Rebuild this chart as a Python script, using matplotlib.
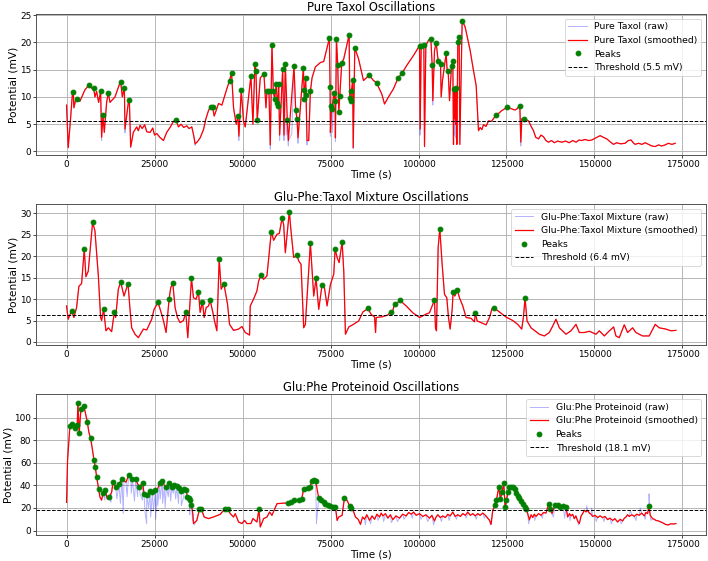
import numpy as np
import matplotlib.pyplot as plt

# ---- Pure Taxol: (time s, potential mV) ----
taxol_smooth = [
    (0, 8.5), (475, 0.7), (1139, 6.0), (1708, 11.0), (1898, 10.9), (2088, 8.0), (2657, 9.7), (2942, 9.6),
    (3796, 9.2), (5220, 11.3), (5884, 11.8), (6453, 12.1), (7118, 11.6), (7687, 11.7), (8067, 10.0),
    (8541, 11.0), (9110, 9.0), (9680, 11.0), (9965, 2.6), (10344, 6.6), (10724, 3.5), (11388, 9.0),
    (11863, 10.8), (12337, 9.0), (13761, 10.0), (15184, 12.6), (15374, 12.8), (15848, 10.0), (16418, 11.7),
    (16608, 4.1), (17557, 9.0), (17841, 9.4), (18221, 0.8), (18980, 3.5), (19929, 4.5), (20400, 3.8),
    (20878, 4.8), (21500, 4.2), (22200, 4.9), (22800, 3.6), (23725, 3.5), (24500, 4.3), (25000, 3.0),
    (25623, 3.3), (26500, 2.6), (27521, 2.0), (28470, 3.5), (29500, 4.5), (30368, 5.5), (31127, 5.8),
    (31792, 4.5), (32500, 5.0), (33300, 4.4), (34164, 4.7), (34800, 4.2), (35588, 4.5), (36100, 3.0),
    (36537, 1.4), (37200, 1.8), (37960, 2.5), (38909, 4.0), (39600, 6.0), (40333, 7.5), (40902, 8.2),
    (41471, 8.2), (41946, 6.5), (42500, 7.5), (43180, 8.8), (44129, 8.5), (45552, 11.5), (46311, 13.0),
    (46881, 14.4), (47450, 8.0), (48209, 5.0), (48684, 6.5), (48968, 2.8), (49633, 11.2), (50297, 5.5),
    (50772, 4.5), (51721, 10.0), (52385, 13.9), (52954, 5.0), (53524, 16.1), (53808, 14.8), (54188, 5.8),
    (55042, 13.5), (56086, 14.2), (56655, 8.0), (56940, 11.0), (57509, 11.0), (57889, 1.2), (58364, 19.6),
    (58743, 11.0), (59123, 9.6), (59597, 12.4), (59882, 8.8), (60072, 8.3), (60262, 12.3), (60546, 3.0),
    (61400, 15.1), (61780, 3.0), (62160, 16.1), (62729, 5.7), (63014, 2.0), (64627, 15.6), (65102, 7.6),
    (65481, 6.0), (65766, 2.5), (67284, 15.3), (67474, 11.3), (67569, 9.6), (67948, 13.4), (68043, 10.4),
    (68328, 2.0), (68803, 2.0), (69277, 11.0), (69752, 13.5), (70701, 15.5), (72124, 16.3), (73073, 16.5),
    (74686, 20.8), (74876, 11.8), (74971, 3.5), (75256, 8.3), (75446, 7.8), (75920, 10.8), (76300, 9.2),
    (76395, 2.5), (76679, 20.7), (77059, 15.8), (77344, 7.2), (77628, 10.2), (78198, 16.2), (78767, 17.0),
    (80285, 21.4), (80475, 9.8), (80760, 9.3), (80950, 11.1), (81300, 13.1), (81450, 0.7), (81900, 19.0),
    (82954, 17.0), (84374, 13.0), (85984, 14.0), (87216, 13.0), (88068, 12.6), (89583, 10.5), (90341, 8.7),
    (91477, 10.0), (92898, 11.5), (94129, 13.4), (95265, 14.3), (96686, 15.8), (98580, 17.6), (100000, 19.1),
    (100284, 19.4), (100474, 4.1), (100758, 19.4), (101136, 19.6), (101515, 19.6), (101705, 0.9),
    (102083, 19.4), (102841, 20.4), (103504, 20.7), (103883, 15.8), (104072, 9.3), (104546, 18.5),
    (105019, 19.9), (105587, 16.6), (105966, 16.1), (106250, 16.1), (106440, 10.0), (106818, 13.0),
    (107860, 18.0), (108144, 14.7), (108428, 14.7), (108807, 9.3), (109375, 15.6), (109754, 16.6),
    (109944, 1.3), (110038, 11.5), (110228, 6.0), (110417, 11.5), (110550, 5.0), (110701, 11.6),
    (110891, 1.3), (111175, 20.0), (111553, 20.9), (111743, 1.3), (112406, 24.0), (113258, 22.8),
    (114679, 18.5), (115626, 14.8), (116383, 12.1), (117046, 3.8), (117520, 4.4), (118000, 4.0),
    (118467, 4.9), (119200, 4.6), (119887, 5.6), (120700, 5.5), (121970, 6.6), (122800, 7.0), (123675, 7.5),
    (125190, 8.1), (126516, 7.8), (127400, 7.6), (127937, 7.8), (128789, 8.4), (129073, 1.7), (129357, 6.0),
    (130115, 6.0), (131251, 5.6), (132000, 4.6), (132672, 3.8), (133300, 2.6), (134092, 2.3), (134800, 3.0),
    (135513, 2.7), (136200, 2.0), (136933, 1.7), (137800, 2.0), (138600, 1.6), (139500, 1.9), (140721, 1.7),
    (141800, 1.9), (142800, 1.6), (143800, 2.0), (144800, 1.7), (145600, 2.1), (146403, 2.0), (147300, 2.2),
    (148300, 2.0), (149244, 2.1), (150400, 2.5), (151612, 2.9), (152500, 2.6), (153506, 2.3), (154400, 1.8),
    (155400, 1.3), (156300, 1.6), (157400, 1.4), (158714, 1.5), (159600, 2.0), (160419, 2.1), (161000, 1.6),
    (161555, 1.3), (162500, 1.5), (163500, 1.3), (164400, 1.6), (165343, 1.3), (166300, 1.0), (167237, 0.9),
    (168200, 1.2), (169100, 1.0), (170078, 1.2), (171000, 1.5), (172000, 1.3), (172919, 1.5),
]
taxol_raw_extra = [
    (9965, 2.0), (16608, 3.4), (36537, 1.1), (48968, 2.0), (57889, 0.4), (60546, 2.0), (61780, 2.0),
    (62400, 3.0), (63014, 1.0), (64000, 3.2), (65766, 1.5), (68328, 1.2), (74971, 2.8), (75600, 3.5),
    (76395, 1.8), (81450, 0.5), (100474, 3.0), (104072, 8.5), (110228, 3.0), (110550, 2.5), (129073, 1.0),
]
taxol_peaks = [
    (1898, 10.9), (2942, 9.6), (6453, 12.1), (7687, 11.7), (9680, 11.0), (10344, 6.6), (11863, 10.8),
    (15374, 12.8), (16418, 11.7), (17841, 9.4), (31127, 5.8), (40902, 8.2), (41471, 8.2), (46311, 13.0),
    (46881, 14.4), (48684, 6.5), (49633, 11.2), (52385, 13.9), (53524, 16.1), (53808, 14.8), (54188, 5.8),
    (56086, 14.2), (56940, 11.0), (57509, 11.0), (58364, 19.6), (58743, 11.0), (59123, 9.6), (59597, 12.4),
    (59882, 8.8), (60072, 8.3), (60262, 12.3), (61400, 15.1), (62160, 16.1), (62729, 5.7), (64627, 15.6),
    (65102, 7.6), (65481, 6.0), (67284, 15.3), (67474, 11.3), (67569, 9.6), (67948, 13.4), (68043, 10.4),
    (69277, 11.0), (74686, 20.8), (74876, 11.8), (75256, 8.3), (75446, 7.8), (75920, 10.8), (76300, 9.2),
    (76679, 20.7), (77059, 15.8), (77344, 7.2), (77628, 10.2), (78198, 16.2), (80285, 21.4), (80475, 9.8),
    (80760, 9.3), (80950, 11.1), (81300, 13.1), (81900, 19.0), (85984, 14.0), (88068, 12.6), (94129, 13.4),
    (95265, 14.3), (100284, 19.4), (100758, 19.4), (101515, 19.6), (103504, 20.7), (103883, 15.8),
    (105019, 19.9), (105587, 16.6), (106250, 16.1), (107860, 18.0), (108428, 14.7), (109375, 15.6),
    (109754, 16.6), (110038, 11.5), (110417, 11.5), (110701, 11.6), (111175, 20.0), (111553, 20.9),
    (112406, 24.0), (121970, 6.6), (125190, 8.1), (128789, 8.4), (130115, 6.0),
]
taxol_threshold = 5.5

# ---- Glu-Phe:Taxol mixture ----
mix_smooth = [
    (0, 8.4), (475, 5.3), (1424, 7.3), (2088, 5.7), (2847, 8.0), (3511, 13.0), (4271, 13.6), (5030, 21.6),
    (5504, 15.2), (6169, 16.5), (6833, 22.5), (7402, 27.9), (8067, 25.9), (9016, 15.6), (9680, 5.7),
    (9965, 5.0), (10534, 7.6), (11198, 2.6), (11863, 3.3), (12812, 2.4), (13571, 6.9), (13950, 5.7),
    (14710, 12.3), (15374, 14.0), (16323, 10.7), (17462, 13.6), (18031, 7.6), (18506, 3.3), (19455, 1.8),
    (20404, 1.0), (21827, 3.0), (22776, 2.8), (24200, 5.3), (24864, 7.6), (26003, 9.2), (27047, 6.4),
    (27521, 5.0), (28280, 2.2), (29134, 10.0), (29609, 12.7), (30178, 13.8), (30843, 8.0), (31507, 5.7),
    (32266, 4.5), (33215, 5.0), (33879, 6.9), (34449, 1.0), (35493, 14.8), (36062, 10.3), (36821, 10.0),
    (37486, 11.7), (37960, 6.9), (38624, 9.3), (39099, 5.7), (39668, 8.0), (40333, 8.4), (40807, 9.7),
    (41566, 6.9), (42041, 4.9), (42705, 2.6), (43369, 19.3), (43939, 12.3), (44698, 13.6), (45078, 11.9),
    (45742, 8.8), (46311, 4.1), (47450, 2.7), (48874, 3.0), (49823, 3.6), (50772, 2.2), (52005, 1.6),
    (52195, 8.4), (53144, 10.0), (54093, 11.9), (54568, 14.2), (55232, 15.5), (55991, 14.6), (56940, 15.4),
    (58174, 25.7), (58838, 23.7), (59787, 25.1), (60451, 25.3), (61211, 28.8), (61685, 27.4), (62160, 20.8),
    (62634, 24.8), (63298, 30.4), (63773, 25.9), (64532, 19.7), (65481, 20.2), (65956, 18.9), (66620, 18.1),
    (67379, 3.3), (67854, 4.1), (68328, 10.3), (69277, 23.0), (70226, 10.7), (70890, 14.8), (71650, 7.6),
    (72599, 13.3), (73263, 12.7), (74022, 8.4), (74971, 13.4), (75920, 15.8), (76300, 21.6), (76869, 19.7),
    (77438, 18.5), (78293, 23.3), (78767, 16.5), (79242, 1.8), (80200, 3.5), (81500, 4.1), (83000, 4.9),
    (84202, 7.0), (85621, 7.8), (86567, 6.4), (87513, 5.8), (87797, 2.2), (87986, 5.7), (89878, 5.9),
    (91297, 6.3), (92054, 7.0), (92432, 6.4), (93189, 8.9), (93662, 8.8), (94702, 9.7), (96500, 8.4),
    (98392, 6.8), (100284, 5.7), (102176, 6.5), (103122, 6.8), (104068, 8.8), (104541, 9.7), (104825, 3.3),
    (105108, 2.6), (105581, 22.0), (106054, 26.4), (106717, 18.1), (107379, 11.1), (108041, 10.3),
    (108514, 5.7), (108987, 3.0), (109555, 7.5), (109838, 11.7), (110311, 10.7), (111068, 12.0),
    (111636, 10.3), (112582, 8.4), (113528, 5.7), (114947, 5.5), (115893, 4.7), (116177, 6.8), (116650, 4.9),
    (117785, 4.5), (119204, 4.0), (120150, 5.7), (120907, 7.8), (121380, 7.8), (122515, 7.3), (123934, 6.4),
    (124880, 5.8), (126772, 5.0), (128191, 4.1), (129326, 3.0), (129799, 5.7), (130272, 10.2), (130840, 4.9),
    (131975, 3.3), (134340, 1.8), (135759, 1.4), (137178, 2.2), (138124, 3.7), (139070, 5.3), (140016, 3.3),
    (141908, 1.8), (143327, 2.6), (144746, 4.1), (145692, 2.2), (147111, 2.2), (148530, 2.5), (150422, 1.8),
    (151368, 2.6), (152787, 1.4), (153733, 2.2), (155436, 3.5), (156098, 1.4), (157044, 1.0), (158463, 4.0),
    (159409, 2.2), (160828, 3.3), (161774, 2.2), (163666, 1.4), (165558, 1.4), (167261, 4.1), (168396, 3.3),
    (170288, 3.0), (171707, 2.6), (173126, 2.7),
]
mix_raw_extra = []
mix_peaks = [
    (1424, 7.3), (5030, 21.6), (7402, 27.9), (10534, 7.6), (13571, 6.9), (15374, 14.0), (17462, 13.6),
    (26003, 9.2), (29134, 10.0), (30178, 13.8), (33879, 6.9), (35493, 14.8), (37486, 11.7), (38624, 9.3),
    (40807, 9.7), (43369, 19.3), (44698, 13.6), (55232, 15.5), (58174, 25.7), (61211, 28.8), (63298, 30.4),
    (65481, 20.2), (69277, 23.0), (70890, 14.8), (72599, 13.3), (76300, 21.6), (78293, 23.3), (85621, 7.8),
    (92054, 7.0), (93189, 8.9), (94702, 9.7), (104541, 9.7), (106054, 26.4), (109838, 11.7), (111068, 12.0),
    (116177, 6.8), (121380, 7.8), (130272, 10.2),
]
mix_threshold = 6.4

# ---- Glu:Phe proteinoid ----
prot_smooth = [
    (0, 25), (285, 62), (664, 79.5), (949, 92.7), (1424, 94.7), (2088, 92.7), (2467, 91.0), (3037, 93.5),
    (3227, 113), (3606, 86.8), (4081, 107.3), (4840, 110.6), (5220, 106), (5884, 96.5), (6358, 86.8),
    (6833, 81.8), (7402, 70.7), (7782, 62.5), (8161, 56), (8541, 47.8), (9110, 37), (9490, 29.6), (9965, 27),
    (10344, 33.1), (11008, 35.8), (11578, 28), (12052, 29.6), (12812, 34), (13191, 42.8), (13950, 39),
    (14899, 41.3), (15753, 45.7), (16323, 44.3), (16892, 42.8), (17651, 49.3), (18221, 47), (18695, 45.7),
    (19644, 45.5), (20214, 41.3), (20688, 39), (21637, 42), (22017, 32.6), (22776, 31.7), (23725, 35),
    (24389, 34), (25243, 35.8), (25813, 36.4), (26477, 42), (27236, 44.3), (27806, 39.9), (28375, 39),
    (29229, 42), (29894, 39), (30653, 40), (31317, 39.1), (31982, 37.8), (32551, 35), (33405, 37),
    (33974, 35.5), (34354, 30), (34828, 28.7), (35113, 26.7), (35493, 23), (35872, 15), (36062, 6.2),
    (37011, 9), (37770, 19), (38340, 18.8), (39099, 12), (40333, 10.6), (41756, 12), (43654, 14.4),
    (44888, 18.8), (45837, 19.4), (46501, 15), (47450, 12), (47924, 15), (48874, 7.6), (49823, 6.2),
    (50582, 9), (51246, 6.2), (52385, 6.2), (52954, 10.6), (54093, 7.6), (54662, 18.8), (55042, 3.2),
    (55991, 10.6), (56940, 12), (57699, 16.4), (58364, 13.5), (59787, 23.8), (61685, 24.3), (62824, 24.3),
    (63773, 25), (64722, 26.7), (65956, 26.7), (66810, 28), (67379, 37), (68518, 37.5), (69087, 38.4),
    (69752, 43.7), (70321, 44.9), (70796, 43.7), (71650, 28.7), (72409, 26.7), (73073, 25), (73548, 23.8),
    (74307, 22.9), (74971, 21.4), (75730, 20.8), (76395, 20.8), (76869, 9), (77344, 12), (78293, 13.5),
    (78957, 29), (79716, 26.7), (80475, 21.4), (80950, 20.2), (81424, 17.9), (82088, 12), (82847, 10),
    (83511, 5.5), (84100, 12), (84675, 10), (85300, 14), (86094, 9), (86800, 13), (87513, 10), (88200, 14.5),
    (88932, 12), (89400, 15.5), (89878, 13), (90600, 15), (91297, 11), (92000, 14), (92716, 9.7), (93600, 13),
    (94608, 11), (95500, 14.5), (96500, 13), (97200, 16), (97919, 14.5), (98600, 16.4), (99338, 13.5),
    (100300, 15), (101230, 12.5), (102100, 14), (103122, 11), (103800, 13.5), (104541, 8.5), (105000, 12),
    (105487, 14), (106200, 11.5), (106906, 13), (107600, 11.5), (108325, 14.4), (109000, 13), (109744, 16.4),
    (110400, 12.5), (111163, 14), (111900, 12.5), (112582, 15), (113300, 13.5), (114001, 16.4), (114700, 13.5),
    (115420, 15), (116100, 13), (116839, 15), (117500, 13.5), (118258, 15.5), (119000, 13.5), (119677, 11),
    (120200, 9), (120623, 5.5), (121096, 17.9), (121664, 22.3), (122136, 26.7), (122799, 38.4), (123272, 28),
    (123745, 34), (124218, 42.2), (124596, 20.8), (124974, 26.7), (125447, 34), (125826, 38.4), (126393, 39),
    (126772, 39), (127434, 37), (127718, 33), (128191, 31), (128664, 28.7), (129231, 25.8), (129704, 23.2),
    (130177, 20.8), (130556, 19.4), (131029, 15), (131502, 9.5), (132000, 14), (132448, 11.5), (132900, 14.5),
    (133394, 12.5), (134100, 15), (134813, 13.5), (135500, 16), (136232, 15.5), (136989, 23.8), (137462, 19.4),
    (137935, 15), (138786, 22.9), (139638, 22.3), (140300, 20.8), (141151, 21.7), (141908, 20.8), (142381, 12),
    (142900, 15), (143327, 13), (143800, 14.4), (144273, 10.5), (144700, 13), (145219, 8.5), (145692, 6.2),
    (146200, 13), (146638, 15), (147100, 18), (147584, 16.5), (148000, 18), (148530, 15.5), (149000, 14.5),
    (149476, 12.5), (150200, 13.5), (150895, 11.5), (151600, 13), (152314, 11.5), (153000, 12.5),
    (153733, 9.7), (154400, 11), (155152, 9), (155800, 10.5), (156571, 7.6), (157300, 10), (157990, 8.5),
    (158500, 11), (158936, 12), (159400, 14), (159882, 12.5), (160600, 14), (161301, 12.6), (162000, 14.5),
    (162720, 13.5), (163400, 15.5), (164139, 13), (164600, 16), (165085, 15), (165463, 21.7), (165842, 13.5),
    (166504, 10.6), (167000, 10), (167450, 9), (168200, 8.5), (168869, 7.6), (169600, 6.5), (170288, 5.3),
    (171000, 5.0), (171707, 6.0), (172400, 5.8), (173126, 6.2),
]
prot_raw_extra = [
    (2800, 88), (3400, 84), (10900, 27), (12600, 25), (14300, 28), (15300, 24), (16100, 15), (17200, 30),
    (18400, 33), (19300, 26), (20200, 30), (20900, 32), (21600, 27), (22300, 16), (22760, 6), (23300, 20),
    (23900, 12), (24700, 18), (25300, 10), (25900, 22), (26600, 28), (27300, 24), (28000, 20), (28900, 30),
    (29600, 26), (30300, 33), (31000, 28), (31800, 24), (32600, 22), (33300, 30), (34200, 28), (35000, 14),
    (35800, 9), (36300, 5), (71000, 6), (84900, 5), (86400, 6), (88500, 9), (90100, 8), (92300, 7), (94000, 8),
    (95900, 10), (98200, 11), (100700, 10), (102600, 8), (104300, 5), (106500, 8), (108700, 9), (110800, 10),
    (113600, 11), (116400, 10), (118700, 11), (120400, 5), (131300, 6), (133000, 9), (135200, 11),
    (138300, 12), (141500, 11), (143000, 9), (145400, 5), (147800, 22), (149200, 20), (150500, 8),
    (152700, 8), (154800, 6), (157600, 6), (160200, 18), (161800, 9), (163000, 20), (164400, 10),
    (165500, 32.5), (166000, 9),
]
prot_peaks = [
    (949, 92.7), (1424, 94.7), (2467, 91.0), (3037, 93.5), (3227, 113), (3606, 86.8), (4081, 107.3),
    (4840, 110.6), (5884, 96.5), (6833, 81.8), (7782, 62.5), (8161, 56), (8541, 47.8), (9110, 37),
    (10344, 33.1), (11008, 35.8), (12052, 29.6), (13191, 42.8), (13950, 39), (14899, 41.3), (15753, 45.7),
    (17651, 49.3), (18695, 45.7), (19644, 45.5), (20688, 39), (21637, 42), (22017, 32.6), (22776, 31.7),
    (23725, 35), (24389, 34), (25243, 35.8), (26477, 42), (27236, 44.3), (28375, 39), (29229, 42),
    (29894, 39), (30653, 40), (31317, 39.1), (31982, 37.8), (32551, 35), (33405, 37), (33974, 35.5),
    (34354, 30), (34828, 28.7), (35113, 26.7), (35493, 23), (37770, 19), (38340, 18.8), (44888, 18.8),
    (45837, 19.4), (54662, 18.8), (62824, 24.3), (63773, 25), (64722, 26.7), (65956, 26.7), (66810, 28),
    (67379, 37), (68518, 37.5), (69087, 38.4), (69752, 43.7), (70321, 44.9), (70796, 43.7), (71650, 28.7),
    (72409, 26.7), (73073, 25), (73548, 23.8), (74307, 22.9), (74971, 21.4), (75730, 20.8), (76395, 20.8),
    (78957, 29), (80475, 21.4), (80950, 20.2), (121664, 22.3), (122136, 26.7), (122799, 38.4), (123272, 28),
    (123745, 34), (124218, 42.2), (124596, 20.8), (124974, 26.7), (125447, 34), (125826, 38.4), (126393, 39),
    (126772, 39), (127434, 37), (127718, 33), (128191, 31), (128664, 28.7), (129231, 25.8), (129704, 23.2),
    (130177, 20.8), (130556, 19.4), (136989, 23.8), (137462, 19.4), (138786, 22.9), (139638, 22.3),
    (140300, 20.8), (141151, 21.7), (141908, 20.8), (165463, 21.7),
]
prot_threshold = 18.1

panels = [
    ("Pure Taxol", "Pure Taxol Oscillations", taxol_smooth, taxol_raw_extra, taxol_peaks, taxol_threshold, (-0.6, 25.2), [0, 5, 10, 15, 20, 25]),
    ("Glu-Phe:Taxol Mixture", "Glu-Phe:Taxol Mixture Oscillations", mix_smooth, mix_raw_extra, mix_peaks, mix_threshold, (-0.7, 32.1), [0, 5, 10, 15, 20, 25, 30]),
    ("Glu:Phe Proteinoid", "Glu:Phe Proteinoid Oscillations", prot_smooth, prot_raw_extra, prot_peaks, prot_threshold, (-4.1, 120.5), [0, 20, 40, 60, 80, 100]),
]

DPI = 64
fig, axes = plt.subplots(3, 1, figsize=(708 / DPI, 561 / DPI), dpi=DPI)
fig.subplots_adjust(left=0.051, right=0.997, top=0.975, bottom=0.046, hspace=0.352)

for ax, (name, title, smooth, extra, peaks, thr, ylim, yticks) in zip(axes, panels):
    st, sv = np.array(smooth).T
    raw = np.array(sorted(smooth + extra))
    pt, pv = np.array(peaks).T
    ax.plot(raw[:, 0], raw[:, 1], color='blue', alpha=0.3, lw=1.1, label=f'{name} (raw)')
    ax.plot(st, sv, color='red', lw=1.4, label=f'{name} (smoothed)')
    ax.plot(pt, pv, 'o', color='green', ms=5.5, label='Peaks')
    ax.axhline(thr, color='k', ls='--', lw=1.1, label=f'Threshold ({thr} mV)')
    ax.set_title(title, fontsize=13, pad=2)
    ax.set_xlabel('Time (s)', fontsize=11.5, labelpad=0.5)
    ax.set_ylabel('Potential (mV)', fontsize=12, labelpad=1.5)
    ax.set_xlim(-8650, 181650)
    ax.set_xticks(np.arange(0, 175001, 25000))
    ax.set_ylim(*ylim)
    ax.set_yticks(yticks)
    ax.tick_params(labelsize=10, pad=2)
    ax.grid(True, lw=1.0)
    for s in ax.spines.values():
        s.set_color('#444444')
        s.set_linewidth(1.0)
    ax.legend(loc='upper right', fontsize=10.4)

fig.savefig('out.png', dpi=DPI)
